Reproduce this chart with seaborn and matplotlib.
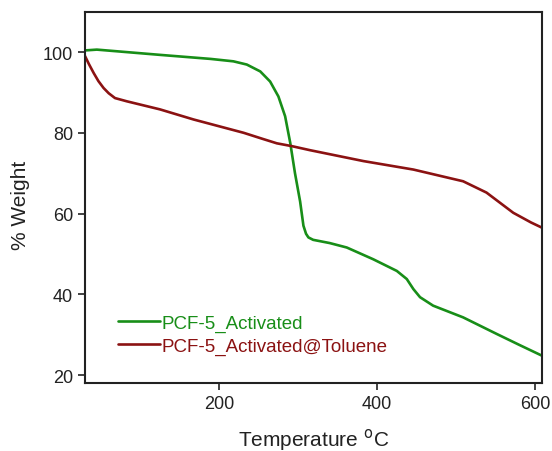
import matplotlib
matplotlib.use("Agg")
import matplotlib.pyplot as plt
import seaborn as sns
import pandas as pd

green_T = [30, 45, 125, 189, 218, 235, 252, 264.5, 275, 283.5, 290, 296, 302.5, 306.7, 310, 313, 319, 340, 361.6, 395, 425, 437.6, 446, 454.4, 471, 509, 551.5, 580, 609]
green_W = [100.4, 100.6, 99.3, 98.3, 97.7, 96.9, 95.2, 92.7, 89.0, 84.1, 77.5, 70.0, 63.0, 57.0, 55.0, 54.1, 53.5, 52.7, 51.6, 48.7, 45.8, 43.8, 41.3, 39.3, 37.2, 34.3, 30.2, 27.5, 24.8]

red_T = [30, 35, 41, 47, 53.5, 60, 68, 83, 125, 167.5, 231, 255, 273, 292, 315, 382.7, 446, 509, 538.6, 572.5, 595, 609]
red_W = [99.0, 97.0, 94.8, 92.8, 91.1, 89.8, 88.6, 87.8, 85.8, 83.3, 80.0, 78.5, 77.4, 76.7, 75.7, 73.0, 70.9, 68.0, 65.2, 60.2, 57.8, 56.5]

names = ["PCF-5_Activated", "PCF-5_Activated@Toluene"]
colors = ["#188e18", "#8b1212"]

df = pd.concat([
    pd.DataFrame({"T": green_T, "W": green_W, "sample": names[0]}),
    pd.DataFrame({"T": red_T, "W": red_W, "sample": names[1]}),
])

sns.set_theme(style="ticks")
plt.rcParams['font.family'] = ['Liberation Sans', 'DejaVu Sans']

fig = plt.figure(figsize=(5.52, 4.52), dpi=100)
ax = fig.add_axes([0.154, 0.150, 0.828, 0.822])
sns.lineplot(data=df, x="T", y="W", hue="sample", palette=colors, sort=False,
             linewidth=1.9, ax=ax, estimator=None)

ax.set_xlim(30, 609)
ax.set_ylim(18, 110)
ax.set_xticks([200, 400, 600])
ax.set_yticks([20, 40, 60, 80, 100])
ax.tick_params(axis='both', labelsize=13, length=5, width=1.2, color='#222222', labelcolor='#222222')
for s in ax.spines.values():
    s.set_linewidth(1.5)
    s.set_color('#222222')
ax.set_xlabel("Temperature $^{\\mathrm{o}}$C", fontsize=15, color='#222222', labelpad=10)
ax.set_ylabel("% Weight", fontsize=15, color='#222222')
ax.yaxis.set_label_coords(-0.12, 0.48)

leg = ax.legend(loc='lower left', bbox_to_anchor=(0.035, 0.03), frameon=False,
                fontsize=13.5, handlelength=2.25, handletextpad=0.1, labelspacing=0.3)
for t, c in zip(leg.get_texts(), colors):
    t.set_color(c)

fig.savefig("out.png", dpi=100)
